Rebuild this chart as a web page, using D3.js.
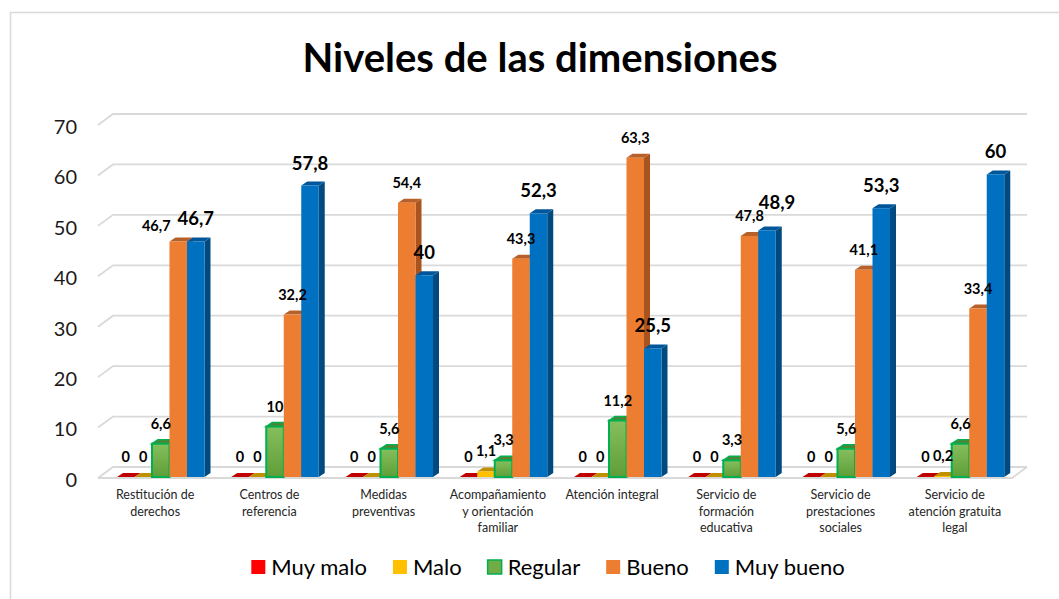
<!DOCTYPE html>
<html>
<head>
<meta charset="utf-8">
<script src="https://cdn.jsdelivr.net/npm/d3@7"></script>
<style>
  body { margin: 0; background: #fff; }
  text { font-family: Lato, "Open Sans", sans-serif; }
</style>
</head>
<body>
<div id="chart"></div>
<script>
// data
const categories = [
    ["Restitución de", "derechos"],
    ["Centros de", "referencia"],
    ["Medidas", "preventivas"],
    ["Acompañamiento", "y orientación", "familiar"],
    ["Atención integral"],
    ["Servicio de", "formación", "educativa"],
    ["Servicio de", "prestaciones", "sociales"],
    ["Servicio de", "atención gratuita", "legal"]
];
const seriesNames = ["Muy malo", "Malo", "Regular", "Bueno", "Muy bueno"];
const muyMalo  = [0, 0, 0, 0, 0, 0, 0, 0];
const malo     = [0, 0, 0, 1.1, 0, 0, 0, 0.2];
const regular  = [6.6, 10, 5.6, 3.3, 11.2, 3.3, 5.6, 6.6];
const bueno    = [46.7, 32.2, 54.4, 43.3, 63.3, 47.8, 41.1, 33.4];
const muyBueno = [46.7, 57.8, 40, 52.3, 25.5, 48.9, 53.3, 60];
const yTicks = [0, 10, 20, 30, 40, 50, 60, 70];

const seriesValues = [muyMalo, malo, regular, bueno, muyBueno];

// face colours: front, top, side
const colors = [
    {front: "#ff0000", top: "#c00000", side: "#a00000"},
    {front: "#ffc000", top: "#bf9000", side: "#a67c00"},
    {front: "url(#greenGrad)", top: "#548235", side: "#4a7a2e", stroke: "#00b050"},
    {front: "#ed7d31", top: "#b8602a", side: "#a9541f"},
    {front: "#0070c0", top: "#00569a", side: "#004a80"}
];

const W = 1059, H = 599;
const depth = {dx: 6, dy: -4};      // bar depth
const floor = {dx: 15, dy: -11};    // wall depth

const svg = d3.select("#chart").append("svg")
    .attr("width", W).attr("height", H);

const defs = svg.append("defs");
const grad = defs.append("linearGradient").attr("id", "greenGrad")
    .attr("x1", 0).attr("y1", 0).attr("x2", 0).attr("y2", 1);
grad.append("stop").attr("offset", "0%").attr("stop-color", "#86bf5e");
grad.append("stop").attr("offset", "100%").attr("stop-color", "#5e9e37");

// border
svg.append("rect")
    .attr("x", 10.5).attr("y", 12.5)
    .attr("width", W + 20).attr("height", H + 20)
    .attr("fill", "none").attr("stroke", "#d9d9d9").attr("stroke-width", 1.5);

// title
svg.append("text")
    .attr("x", 540).attr("y", 72)
    .attr("text-anchor", "middle")
    .style("font-size", "40px").style("font-weight", "bold")
    .attr("fill", "#000")
    .text("Niveles de las dimensiones");

// scales
const y = d3.scaleLinear().domain([0, 70]).range([478, 125]);
const x = d3.scaleBand()
    .domain(d3.range(categories.length))
    .range([98, 1012]);
const xs = d3.scaleBand()
    .domain(d3.range(seriesNames.length))
    .range([19, 19 + 87.5]);

// gridlines (back wall) with slanted floor edge
const grid = svg.append("g");
yTicks.forEach(t => {
    grid.append("path")
        .attr("d", `M${98},${y(t)} L${98 + floor.dx},${y(t) + floor.dy} L${1012 + floor.dx},${y(t) + floor.dy}`)
        .attr("fill", "none").attr("stroke", "#d9d9d9").attr("stroke-width", 1.8);
});
grid.append("path")
    .attr("d", `M98,${y(0)} L1012,${y(0)} L${1012 + floor.dx},${y(0) + floor.dy}`)
    .attr("fill", "none").attr("stroke", "#d9d9d9").attr("stroke-width", 1.8);

// y axis labels
const yAxis = svg.append("g")
    .attr("transform", "translate(98,2)")
    .call(d3.axisLeft(y).tickValues(yTicks).tickSize(0).tickPadding(21));
yAxis.select(".domain").remove();
yAxis.selectAll("text")
    .style("font-size", "20px").style("font-family", "Lato, sans-serif")
    .attr("fill", "#1a1a1a");

// bars
const bars = svg.append("g");
categories.forEach((c, i) => {
    seriesValues.forEach((vals, s) => {
        const v = vals[i];
        const x0 = x(i) + xs(s), w = xs.bandwidth();
        const yb = y(0) - 1, yt = y(v) - 1;
        const col = colors[s];
        const g = bars.append("g");
        // side
        g.append("path")
            .attr("d", `M${x0 + w},${yt} L${x0 + w + depth.dx},${yt + depth.dy} L${x0 + w + depth.dx},${yb + depth.dy} L${x0 + w},${yb} Z`)
            .attr("fill", col.side);
        // top
        g.append("path")
            .attr("d", `M${x0},${yt} L${x0 + depth.dx},${yt + depth.dy} L${x0 + w + depth.dx},${yt + depth.dy} L${x0 + w},${yt} Z`)
            .attr("fill", col.top)
            .attr("stroke", col.stroke || "none").attr("stroke-width", 1.5);
        // front
        if (v > 0) {
            g.append("rect")
                .attr("x", x0).attr("y", yt)
                .attr("width", w).attr("height", yb - yt)
                .attr("fill", col.front)
                .attr("stroke", col.stroke || "none").attr("stroke-width", 2);
        }
    });
});

// value labels
const nudge = {"0-3": [-22, 5], "5-4": [10, -5]};
const labels = svg.append("g");
categories.forEach((c, i) => {
    seriesValues.forEach((vals, s) => {
        const v = vals[i];
        const big = s === 4;
        const n = nudge[i + "-" + s] || [0, 0];
        labels.append("text")
            .attr("x", x(i) + xs(s) + xs.bandwidth() / 2 + n[0])
            .attr("y", y(v) - 1 - (big ? 16 : 15) + n[1])
            .attr("text-anchor", "middle")
            .style("font-size", big ? "18.5px" : "14.5px")
            .style("font-weight", "bold")
            .attr("fill", "#000")
            .text(String(v).replace(".", ","));
    });
});

// category labels
const cats = svg.append("g");
categories.forEach((lines, i) => {
    const t = cats.append("text")
        .attr("text-anchor", "middle")
        .style("font-size", "12.5px")
        .attr("fill", "#262626");
    lines.forEach((l, k) => {
        t.append("tspan")
            .attr("x", x(i) + x.bandwidth() / 2)
            .attr("y", 499 + k * 16.5)
            .text(l);
    });
});

// legend
const legend = svg.append("g").attr("transform", "translate(0,567)");
let lx = 0;
seriesNames.forEach((name, s) => {
    const g = legend.append("g");
    g.append("rect")
        .attr("x", 0).attr("y", -7).attr("width", 14).attr("height", 14)
        .attr("fill", s === 2 ? "#70ad47" : colors[s].front)
        .attr("stroke", colors[s].stroke || "none").attr("stroke-width", 1.5);
    const t = g.append("text")
        .attr("x", 20).attr("y", 8)
        .style("font-size", "22px")
        .attr("fill", "#000")
        .text(name);
    const tw = t.node().getComputedTextLength();
    g.attr("transform", `translate(${lx},0)`);
    lx += 20 + tw + 26;
});
lx -= 26;
legend.attr("transform", `translate(${548 - lx / 2},567)`);
</script>
</body>
</html>
